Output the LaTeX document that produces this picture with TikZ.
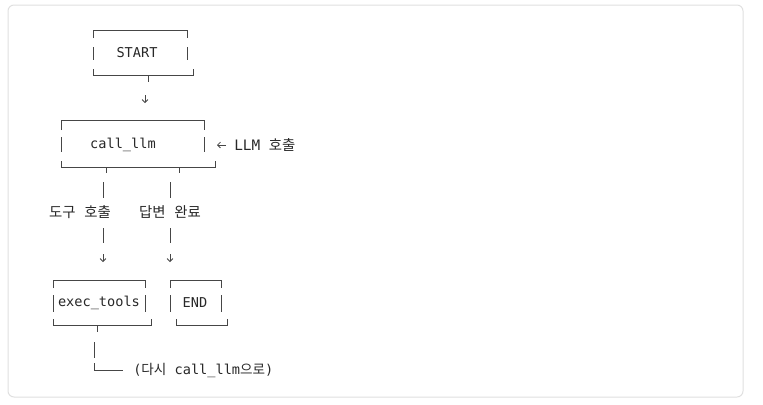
\documentclass[tikz,border=0pt]{standalone}
\usepackage{fontspec}
\setmonofont{DejaVu Sans Mono}
\newfontfamily\krfont{Noto Sans CJK KR}
\newcommand\krsp{{\ttfamily\ }}
\usetikzlibrary{arrows.meta}
\definecolor{inkgray}{RGB}{40,40,40}
\definecolor{linegray}{RGB}{70,70,70}
\definecolor{framegray}{RGB}{224,224,224}
\begin{document}
\begin{tikzpicture}[x=0.75pt,y=0.75pt,yscale=-1,xscale=1,
  boxline/.style={draw=linegray,line width=0.6pt},
  lbl/.style={inner sep=0.75pt,text=inkgray,font=\fontsize{10.2}{12}\selectfont\ttfamily},
  krlbl/.style={inner sep=0.75pt,text=inkgray,font=\fontsize{10.8}{12}\selectfont\krfont},
  arr/.style={draw=linegray,line width=0.6pt,-{Straight Barb[length=2.2pt,width=4.4pt]}}]
\useasboundingbox (0,0) rectangle (763,404);
%Shape: Rounded frame
\draw [framegray,rounded corners=4.5pt,line width=0.75pt,fill=white] (8,5) rectangle (743,397);

%Shape: START box
\draw [boxline] (93,38) -- (93,30) -- (187,30) -- (187,38) ;
\draw [boxline] (93,47) -- (93,60) (187,47) -- (187,60) ;
\draw [boxline] (93,69) -- (93,75) -- (193,75) -- (193,69) ;
\draw [boxline] (148,75) -- (148,82) ;
% Text Node
\node (start) at (137,53) [lbl] {START};
%Straight Lines: START to call_llm
\coordinate (s1) at (145,95);
\coordinate (s2) at (145,103);
\draw [arr] (s1) -- (s2) ;

%Shape: call_llm box
\draw [boxline] (61,130) -- (61,120) -- (204,120) -- (204,130) ;
\draw [boxline] (61,137) -- (61,152) (204,137) -- (204,152) ;
\draw [boxline] (61,161) -- (61,167) -- (215,167) -- (215,161) ;
\draw [boxline] (106,167) -- (106,173) (179,167) -- (179,173) ;
% Text Node
\node (llm) at (123,145) [lbl] {call\_llm};
% Text Node
\node (llmnote) at (233,145) [anchor=west,krlbl] {{\ttfamily LLM}\krsp 호출};
\coordinate (n1) at (226,145);
\coordinate (n2) at (217,145);
\draw [arr] (n1) -- (n2) ;

%Straight Lines: branches
\draw [boxline] (103,182) -- (103,198) (170,182) -- (170,198) ;
% Text Node
\node (tool) at (80,212) [krlbl] {도구\krsp 호출};
% Text Node
\node (done) at (170,212) [krlbl] {답변\krsp 완료};
\draw [boxline] (103,228) -- (103,243) (170,228) -- (170,243) ;
\coordinate (t1) at (103,254);
\coordinate (t2) at (103,262);
\draw [arr] (t1) -- (t2) ;
\coordinate (d1) at (170,254);
\coordinate (d2) at (170,262);
\draw [arr] (d1) -- (d2) ;

%Shape: exec_tools box
\draw [boxline] (53,288) -- (53,280) -- (145,280) -- (145,288) ;
\draw [boxline] (53,295) -- (53,312) (145,295) -- (145,312) ;
\draw [boxline] (53,319) -- (53,325) -- (151,325) -- (151,319) ;
\draw [boxline] (97,325) -- (97,332) ;
% Text Node
\node (exec) at (99,303) [lbl] {exec\_tools};

%Shape: END box
\draw [boxline] (170,288) -- (170,280) -- (221,280) -- (221,288) ;
\draw [boxline] (170,295) -- (170,312) (221,295) -- (221,312) ;
\draw [boxline] (176,319) -- (176,325) -- (227,325) -- (227,319) ;
% Text Node
\node (end) at (195,303) [lbl] {END};

%Straight Lines: back to call_llm
\draw [boxline] (94,342) -- (94,358) ;
\draw [boxline] (94,363) -- (94,370) -- (123,370) ;
% Text Node
\node (back) at (132,370) [anchor=west,lbl] {({\krfont 다시} call\_llm{\krfont 으로})};

\end{tikzpicture}
\end{document}
